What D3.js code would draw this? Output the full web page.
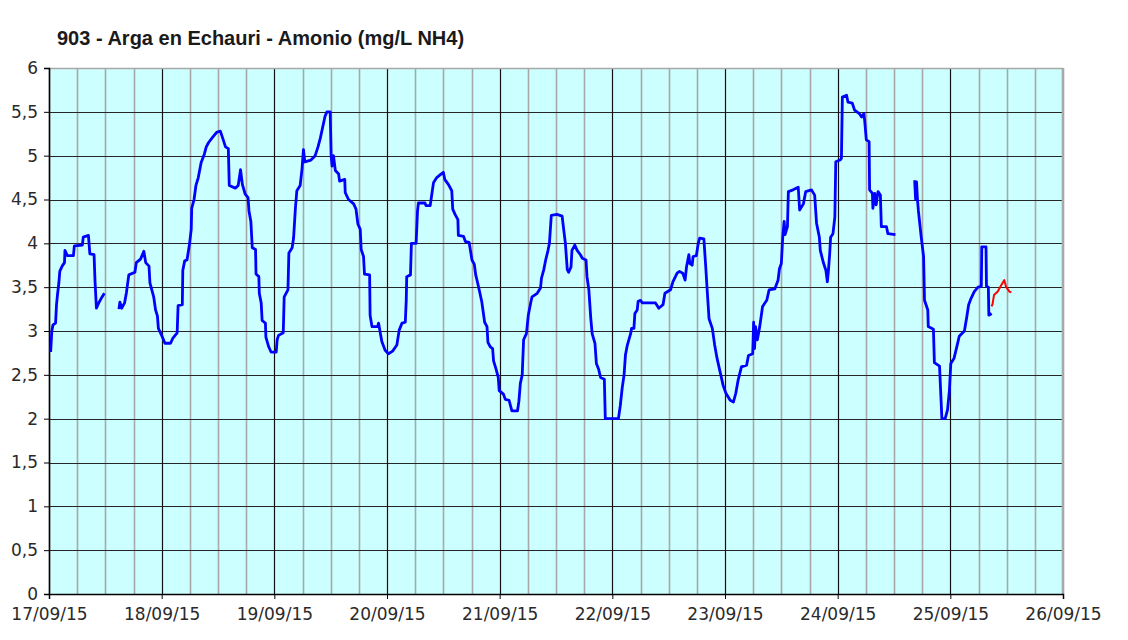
<!DOCTYPE html>
<html lang="es">
<head>
    <meta charset="UTF-8">
    <title>903 - Arga en Echauri - Amonio</title>
    <script src="https://d3js.org/d3.v7.min.js"></script>
    <style>
        body { margin: 0; background: #fff; }
        .title {
            font-family: "Liberation Sans", Arial, sans-serif;
            font-weight: bold;
            font-size: 20px;
            fill: #1a1a1a;
        }
        .axis text {
            font-family: "DejaVu Sans", Verdana, sans-serif;
            font-size: 17px;
            fill: #2a2a2a;
        }
        .axis path, .axis line { stroke: #000; }
    </style>
</head>
<body>
<svg width="1128" height="640"></svg>
<script>
    // hours since 17/09/15 00:00, value in mg/L NH4
    const segment1 = [[0.35,2.76],[0.6,3.0],[0.85,3.07],[1.4,3.09],[1.6,3.3],[1.8,3.41],[2.1,3.55],[2.3,3.68],[2.8,3.74],[3.3,3.78],[3.4,3.92],[3.9,3.86],[5.2,3.86],[5.4,3.97],[7.1,3.98],[7.3,4.07],[8.4,4.09],[8.7,3.88],[9.6,3.87],[9.8,3.57],[10.1,3.26],[10.6,3.32],[11.1,3.37],[11.8,3.43]];

    const segment2 = [[14.9,3.25],[15.1,3.33],[15.5,3.26],[16.1,3.32],[16.5,3.44],[17.0,3.64],[18.3,3.67],[18.6,3.78],[19.5,3.82],[20.2,3.91],[20.6,3.78],[21.3,3.74],[21.5,3.55],[22.3,3.39],[22.7,3.24],[23.1,3.17],[23.3,3.03],[24.0,2.95],[24.7,2.86],[25.9,2.86],[26.4,2.92],[27.3,2.98],[27.5,3.29],[28.4,3.3],[28.5,3.69],[28.9,3.8],[29.4,3.81],[29.9,3.98],[30.3,4.16],[30.4,4.4],[30.9,4.5],[31.3,4.66],[31.8,4.75],[32.4,4.92],[33.1,5.02],[33.5,5.1],[34.0,5.15],[35.0,5.22],[35.8,5.27],[36.5,5.28],[37.0,5.2],[37.6,5.1],[38.2,5.08],[38.4,4.66],[39.7,4.63],[40.3,4.66],[40.8,4.84],[41.2,4.67],[41.8,4.56],[42.4,4.52],[42.6,4.37],[43.0,4.25],[43.3,3.95],[44.0,3.93],[44.1,3.65],[44.7,3.62],[44.8,3.43],[45.2,3.32],[45.4,3.12],[46.1,3.09],[46.2,2.93],[46.8,2.82],[47.3,2.76],[48.4,2.76],[48.6,2.9],[48.9,2.95],[49.9,2.98],[50.1,3.39],[50.5,3.43],[50.9,3.47],[51.1,3.89],[51.8,3.95],[52.1,4.06],[52.5,4.41],[52.8,4.6],[53.5,4.66],[53.9,4.85],[54.2,5.07],[54.5,4.93],[55.8,4.95],[56.7,5.0],[57.3,5.1],[57.8,5.2],[58.4,5.35],[58.8,5.45],[59.2,5.5],[59.9,5.5],[60.1,5.0],[60.3,4.88],[60.6,5.0],[61.0,4.83],[61.7,4.79],[61.9,4.71],[63.0,4.73],[63.1,4.58],[63.8,4.5],[64.9,4.45],[65.4,4.39],[65.8,4.22],[66.3,4.16],[66.5,3.93],[67.0,3.85],[67.2,3.65],[68.3,3.64],[68.4,3.18],[68.8,3.05],[70.0,3.05],[70.2,3.09],[70.6,2.97],[70.9,2.88],[71.6,2.78],[72.3,2.74],[73.2,2.77],[74.1,2.84],[74.6,3.01],[75.2,3.09],[75.9,3.1],[76.1,3.35],[76.2,3.62],[77.0,3.64],[77.2,4.0],[78.2,4.0],[78.5,4.37],[78.7,4.46],[80.1,4.46],[80.3,4.43],[81.2,4.43],[81.6,4.58],[81.9,4.69],[82.6,4.75],[83.3,4.78],[84.0,4.81],[84.3,4.73],[85.1,4.67],[85.8,4.6],[86.0,4.39],[86.5,4.33],[87.1,4.27],[87.2,4.09],[88.3,4.08],[88.7,4.02],[89.5,4.01],[90.1,3.81],[90.6,3.76],[90.9,3.64],[91.3,3.55],[91.8,3.43],[92.2,3.33],[92.8,3.1],[93.3,3.05],[93.5,2.87],[94.0,2.82],[94.5,2.8],[94.7,2.66],[95.2,2.57],[95.7,2.47],[95.9,2.32],[96.8,2.28],[97.2,2.22],[98.0,2.21],[98.6,2.09],[99.8,2.09],[100.1,2.2],[100.4,2.4],[100.8,2.5],[101.1,2.9],[101.7,2.97],[102.1,3.18],[102.6,3.32],[102.9,3.39],[104.0,3.43],[104.7,3.49],[104.9,3.6],[105.4,3.7],[105.8,3.81],[106.3,3.92],[106.6,4.0],[107.0,4.32],[108.2,4.33],[109.3,4.31],[109.7,4.13],[110.0,4.0],[110.4,3.7],[110.7,3.67],[111.2,3.73],[111.4,3.92],[112.0,3.98],[112.5,3.92],[113.2,3.87],[113.6,3.83],[114.4,3.81],[114.6,3.62],[115.0,3.47],[115.4,3.15],[115.7,2.97],[116.3,2.86],[116.6,2.63],[117.1,2.56],[117.5,2.47],[118.3,2.45],[118.5,2.0],[121.3,2.0],[121.7,2.15],[122.1,2.35],[122.5,2.5],[122.8,2.73],[123.2,2.84],[123.9,2.97],[124.1,3.03],[124.6,3.03],[124.8,3.2],[125.3,3.24],[125.5,3.34],[126.0,3.35],[126.4,3.32],[129.2,3.32],[129.9,3.26],[130.8,3.3],[131.2,3.43],[132.4,3.47],[132.9,3.56],[133.8,3.66],[134.3,3.68],[135.0,3.66],[135.5,3.58],[135.8,3.73],[136.3,3.87],[136.5,3.77],[137.0,3.75],[137.2,3.85],[137.9,3.86],[138.3,4.0],[138.6,4.06],[139.5,4.05],[139.9,3.73],[140.2,3.47],[140.6,3.14],[141.3,3.03],[141.8,2.84],[142.3,2.69],[143.1,2.5],[143.6,2.38],[144.2,2.29],[145.1,2.21],[145.8,2.19],[146.3,2.29],[146.8,2.44],[147.5,2.59],[148.6,2.61],[149.0,2.72],[149.9,2.74],[150.1,3.1],[150.3,2.8],[150.5,3.05],[150.9,2.9],[151.4,3.05],[152.0,3.28],[152.9,3.35],[153.4,3.47],[154.6,3.48],[155.3,3.58],[155.6,3.71],[156.0,3.77],[156.3,4.07],[156.6,4.25],[156.8,4.1],[157.3,4.19],[157.5,4.59],[158.5,4.61],[159.6,4.64],[159.9,4.38],[160.7,4.45],[161.2,4.59],[162.4,4.61],[163.1,4.55],[163.5,4.23],[164.1,4.07],[164.3,3.92],[164.9,3.79],[165.5,3.69],[165.8,3.56],[166.0,3.67],[166.3,3.88],[166.5,4.07],[167.0,4.11],[167.4,4.3],[167.6,4.93],[168.5,4.95],[168.8,4.97],[169.0,5.67],[169.9,5.69],[170.2,5.61],[171.1,5.6],[171.6,5.52],[172.6,5.48],[173.1,5.44],[173.6,5.48],[173.8,5.37],[174.1,5.18],[174.7,5.16],[174.8,4.61],[175.4,4.57],[175.5,4.4],[175.9,4.57],[176.2,4.44],[176.6,4.59],[177.1,4.55],[177.3,4.19],[178.4,4.19],[178.7,4.11],[180.3,4.1]];

    const segment3 = [[184.4,4.72],[184.6,4.5],[184.8,4.7],[185.0,4.5],[185.2,4.37],[185.8,4.07],[186.3,3.85],[186.5,3.35],[187.2,3.24],[187.3,3.05],[188.4,3.02],[188.6,2.64],[189.7,2.6],[190.0,2.24],[190.2,2.0],[190.9,2.0],[191.4,2.1],[191.8,2.32],[192.1,2.63],[192.8,2.69],[193.6,2.87],[193.9,2.94],[195.0,3.0],[195.5,3.16],[195.9,3.3],[196.4,3.37],[197.1,3.45],[197.9,3.5],[198.6,3.51],[198.7,3.96],[199.6,3.96],[199.7,3.51],[200.1,3.5],[200.2,3.18],[200.8,3.2]];

    // last readings, drawn in red
    const provisional = [[200.8,3.28],[201.0,3.31],[201.3,3.41],[202.1,3.45],[202.8,3.52],[203.5,3.58],[203.9,3.5],[204.6,3.45],[205.0,3.44]];

    const yTicks = [0, 0.5, 1, 1.5, 2, 2.5, 3, 3.5, 4, 4.5, 5, 5.5, 6];
    const startDate = new Date(2015, 8, 17);
    const endDate = new Date(2015, 8, 26);

    const svg = d3.select("svg");

    const plotLeft = 49, plotRight = 1063, plotTop = 68, plotBottom = 594;

    const x = d3.scaleTime().domain([startDate, endDate]).range([plotLeft, plotRight]);
    const y = d3.scaleLinear().domain([0, 6]).range([plotBottom, plotTop]);

    // plot background
    svg.append("rect")
        .attr("x", plotLeft).attr("y", plotTop)
        .attr("width", plotRight - plotLeft).attr("height", plotBottom - plotTop)
        .attr("fill", "#ccffff");

    // 6-hour grid lines (grey)
    svg.append("g").selectAll("line")
        .data(x.ticks(d3.timeHour.every(6)))
        .join("line")
        .attr("x1", d => Math.round(x(d)) + 0.5).attr("x2", d => Math.round(x(d)) + 0.5)
        .attr("y1", plotTop).attr("y2", plotBottom)
        .attr("stroke", "#a8a8a8")
        .attr("stroke-width", 1.6);

    // horizontal grid
    svg.append("g").selectAll("line")
        .data(yTicks.slice(1, -1))
        .join("line")
        .attr("x1", plotLeft).attr("x2", plotRight)
        .attr("y1", d => Math.round(y(d)) + 0.5).attr("y2", d => Math.round(y(d)) + 0.5)
        .attr("stroke", "#262626")
        .attr("stroke-width", 1.2);

    // day grid lines (black)
    svg.append("g").selectAll("line")
        .data(x.ticks(d3.timeDay.every(1)).slice(1, -1))
        .join("line")
        .attr("x1", d => Math.round(x(d)) + 0.5).attr("x2", d => Math.round(x(d)) + 0.5)
        .attr("y1", plotTop).attr("y2", plotBottom)
        .attr("stroke", "#111");

    // top & right border
    svg.append("path")
        .attr("d", `M${plotLeft},${plotTop + 0.5}H${plotRight - 0.5}V${plotBottom}`)
        .attr("fill", "none")
        .attr("stroke", "#a8a8a8")
        .attr("stroke-width", 1.6);

    // axes
    const xAxis = d3.axisBottom(x)
        .ticks(d3.timeDay.every(1))
        .tickFormat(d3.timeFormat("%d/%m/%y"))
        .tickSize(5)
        .tickPadding(9);
    svg.append("g")
        .attr("class", "axis")
        .attr("transform", `translate(0,${plotBottom})`)
        .call(xAxis);

    const yAxis = d3.axisLeft(y)
        .tickValues(yTicks)
        .tickFormat(d => String(d).replace(".", ","))
        .tickSize(5)
        .tickPadding(6);
    svg.append("g")
        .attr("class", "axis")
        .attr("transform", `translate(${plotLeft},0)`)
        .call(yAxis);

    svg.selectAll(".axis .domain").attr("stroke", "#000").attr("stroke-width", 1.5);

    // series
    const toDate = h => new Date(startDate.getTime() + h * 3600 * 1000);
    const line = d3.line()
        .x(d => x(toDate(d[0])))
        .y(d => y(d[1]));

    [segment1, segment2, segment3].forEach(seg => {
        svg.append("path")
            .datum(seg)
            .attr("d", line)
            .attr("fill", "none")
            .attr("stroke", "#0000ff")
            .attr("stroke-width", 2.8)
            .attr("stroke-linejoin", "round");
    });

    svg.append("path")
        .datum(provisional)
        .attr("d", line)
        .attr("fill", "none")
        .attr("stroke", "#ff0000")
        .attr("stroke-width", 2)
        .attr("stroke-linejoin", "round");

    // title
    svg.append("text")
        .attr("class", "title")
        .attr("x", 57)
        .attr("y", 45)
        .text("903 - Arga en Echauri - Amonio (mg/L NH4)");
</script>
</body>
</html>
